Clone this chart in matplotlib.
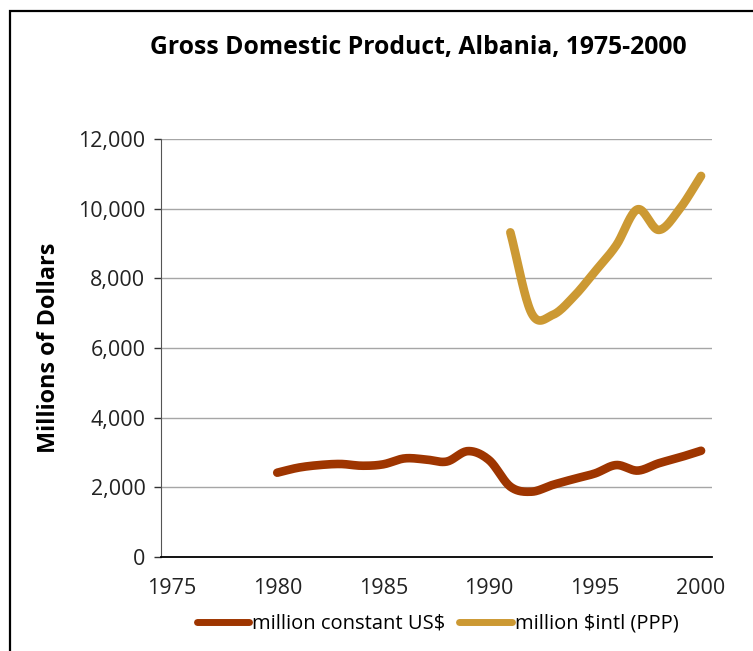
import numpy as np
import matplotlib
matplotlib.use("Agg")
import matplotlib.pyplot as plt
from matplotlib.patches import Rectangle

plt.rcParams['font.family'] = ['Open Sans', 'DejaVu Sans']

# data
years_usd = [1980, 1981, 1982, 1983, 1984, 1985, 1986, 1987, 1988, 1989,
             1990, 1991, 1992, 1993, 1994, 1995, 1996, 1997, 1998, 1999, 2000]
gdp_usd = [2420, 2565, 2640, 2670, 2620, 2660, 2830, 2800, 2740, 3040,
           2780, 2020, 1875, 2070, 2240, 2400, 2640, 2480, 2690, 2860, 3050]

years_ppp = [1991, 1992, 1993, 1994, 1995, 1996, 1997, 1998, 1999, 2000]
gdp_ppp = [9320, 7000, 6950, 7480, 8200, 8950, 9980, 9390, 10000, 10940]

series_labels = ['million constant US$', 'million $intl (PPP)']
colors = ['#9E3500', '#CC9933']
x_ticks = [1975, 1980, 1985, 1990, 1995, 2000]
y_ticks = [0, 2000, 4000, 6000, 8000, 10000, 12000]


def smooth(x, y, n=20):
    # Catmull-Rom style smoothing like the spreadsheet's "smoothed line"
    x = np.asarray(x, float)
    y = np.asarray(y, float)
    px = np.concatenate([[2 * x[0] - x[1]], x, [2 * x[-1] - x[-2]]])
    py = np.concatenate([[2 * y[0] - y[1]], y, [2 * y[-1] - y[-2]]])
    xs, ys = [], []
    t = np.linspace(0, 1, n, endpoint=False)
    for i in range(1, len(px) - 2):
        for p, out in ((px, xs), (py, ys)):
            p0, p1, p2, p3 = p[i - 1], p[i], p[i + 1], p[i + 2]
            out.extend(0.5 * (2 * p1 + (-p0 + p2) * t
                              + (2 * p0 - 5 * p1 + 4 * p2 - p3) * t ** 2
                              + (-p0 + 3 * p1 - 3 * p2 + p3) * t ** 3))
    xs.append(x[-1])
    ys.append(y[-1])
    return xs, ys


fig = plt.figure(figsize=(7.53, 6.51), dpi=100)
ax = fig.add_axes([0.2134, 0.1444, 0.7317, 0.6421])

for xv, yv, lab, c in zip([years_usd, years_ppp], [gdp_usd, gdp_ppp], series_labels, colors):
    sx, sy = smooth(xv, yv)
    ax.plot(sx, sy, color=c, lw=6.2, solid_capstyle='round', label=lab, zorder=3)

ax.set_xlim(1974.5, 2000.5)
ax.set_ylim(0, 12000)
ax.set_xticks(x_ticks)
ax.set_yticks(y_ticks)
ax.set_yticklabels([f'{v:,}' for v in y_ticks])
ax.tick_params(axis='x', length=0, pad=15, labelsize=15.5, colors='#222222')
ax.tick_params(axis='y', length=5, width=1, pad=6, labelsize=15.5, colors='#333333',
               labelcolor='#222222')
ax.grid(axis='y', color='#a6a6a6', lw=1)
ax.set_axisbelow(True)
for s in ['top', 'right']:
    ax.spines[s].set_visible(False)
ax.spines['left'].set_color('#555555')
ax.spines['bottom'].set_color('black')
ax.spines['bottom'].set_linewidth(1.3)

ax.set_ylabel('Millions of Dollars', fontsize=16.8, fontweight='bold', labelpad=12)
fig.text(0.556, 0.927, 'Gross Domestic Product, Albania, 1975-2000',
         ha='center', va='center', fontsize=17.8, fontweight='bold')

leg = fig.legend(loc='center', bbox_to_anchor=(0.581, 0.0415), ncol=2, frameon=False,
                 fontsize=14.5, handlelength=2.6, handletextpad=0.15, columnspacing=0.7,
                 borderpad=0)
for h in leg.get_lines():
    h.set_linewidth(5)

# outer frame, cut off at right and bottom like the reference
fig.patches.append(Rectangle((10 / 753, -0.1), 1.2, 1.1 - 11 / 651,
                             transform=fig.transFigure, fill=False,
                             edgecolor='black', lw=1.6))

fig.savefig('out.png', dpi=100)
